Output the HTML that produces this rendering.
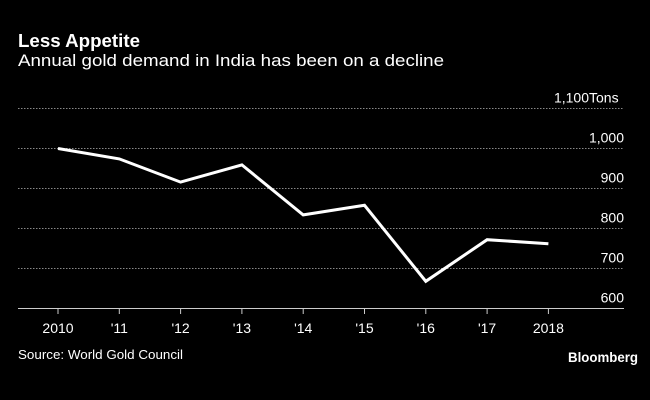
<!DOCTYPE html>
<html><head><meta charset="utf-8"><style>
html,body{margin:0;padding:0;background:#000;}
svg{display:block;}
text{font-family:"Liberation Sans","DejaVu Sans",sans-serif;fill:#fff;}
</style></head><body>
<svg id="chart" width="650" height="400" viewBox="0 0 650 400">
<rect width="650" height="400" fill="#000"/>
<text x="18" y="47" font-size="18" font-weight="bold" textLength="122" lengthAdjust="spacingAndGlyphs">Less Appetite</text>
<text x="18" y="66" font-size="17" textLength="426" lengthAdjust="spacingAndGlyphs">Annual gold demand in India has been on a decline</text>
<g id="grid"></g>
<g id="yticks"></g>
<g id="xaxis"></g>
<g id="series"></g>
<text x="18" y="359" font-size="13" textLength="165" lengthAdjust="spacingAndGlyphs">Source: World Gold Council</text>
<text x="638" y="362" font-size="14" font-weight="bold" text-anchor="end" textLength="70" lengthAdjust="spacingAndGlyphs">Bloomberg</text>
</svg>
<script>
const categories = ["2010","'11","'12","'13","'14","'15","'16","'17","2018"];
const demandTons = [1000, 974, 916, 959, 834, 858, 668, 772, 762];
const yTicks = [600, 700, 800, 900, 1000, 1100];
const yTickLabels = ["600","700","800","900","1,000","1,100"];

const NS = "http://www.w3.org/2000/svg";
const x0 = 58, xStep = 61.3;
function xScale(i){ return x0 + i * xStep; }
function yScale(v){ return 308.5 - (v - 600) * 0.4; }
function mk(tag, attrs, parent){
  const el = document.createElementNS(NS, tag);
  for (const k in attrs) el.setAttribute(k, attrs[k]);
  parent.appendChild(el);
  return el;
}
const grid = document.getElementById('grid');
const yt = document.getElementById('yticks');
yTicks.forEach((v, i) => {
  const y = yScale(v);
  if (v !== 600) {
    const l = mk('line', {x1:18, x2:624, y1:y, y2:y, stroke:'#888', 'stroke-width':1, 'stroke-dasharray':'1.5,1.5'}, grid);
    
    
  }
  const t = mk('text', {x:624, y:y-6, 'font-size':14, 'text-anchor':'end'}, yt);
  t.textContent = yTickLabels[i] + (i === yTicks.length - 1 ? '' : '');
  
  
  if (i === yTicks.length - 1) {
    t.setAttribute('x', 589);
    const u = mk('text', {x:589, y:y-6, 'font-size':14}, yt);
    u.textContent = 'Tons';
    
    
  }
});
const xa = document.getElementById('xaxis');
const base = mk('line', {x1:18, x2:624, y1:308.5, y2:308.5, stroke:'#ccc', 'stroke-width':1}, xa);


categories.forEach((c, i) => {
  const x = xScale(i);
  const tk = mk('line', {x1:x, x2:x, y1:308.5, y2:314, stroke:'#ccc', 'stroke-width':1}, xa);
  
  
  const t = mk('text', {x:x, y:333, 'font-size':14, 'text-anchor':'middle'}, xa);
  t.textContent = c;
  
  
});
const pts = demandTons.map((v, i) => xScale(i) + ',' + yScale(v)).join(' ');
const line = mk('polyline', {points:pts, fill:'none', stroke:'#fff', 'stroke-width':3, 'stroke-linejoin':'miter'}, document.getElementById('series'));


</script>
</body></html>
